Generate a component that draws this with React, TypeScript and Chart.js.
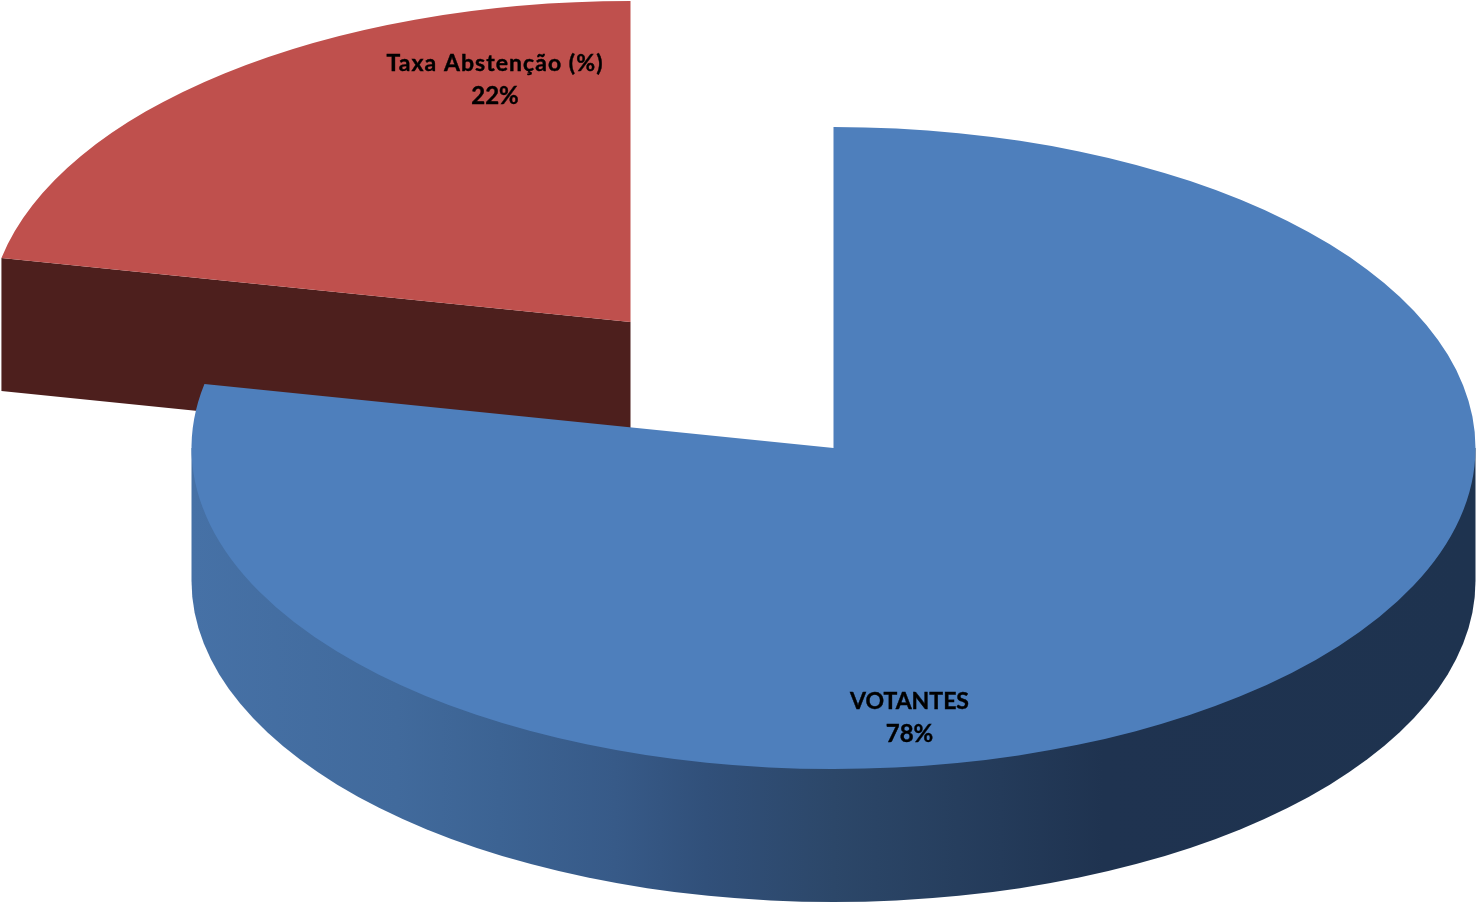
import React, { useEffect, useRef } from "react";
import { Chart, registerables } from "chart.js";

Chart.register(...registerables);

const categories = ["VOTANTES", "Taxa Abstenção (%)"];
const shares = [78.2, 21.8];
const topColors = ["#4e7fbc", "#bf504d"];
const redWallColor = "#4d1f1d";

const WIDTH = 1476;
const HEIGHT = 906;
const RADIUS = 642;
const SQUASH = 0.5;
const DEPTH = 133;
// where each slice's centre lands on the page, and its label
const sliceCentres = [
  { x: 833.5, y: 448 },
  { x: 630.5, y: 322 },
];
const labelAnchors = [
  { x: 909.5, y: 702 },
  { x: 495, y: 64 },
];
const labelTracking = ["0px", "1.05px"];
const LINE_GAP = 32;
const wallStops: [number, string][] = [
  [0, "#4671a6"],
  [0.16, "#416a9c"],
  [0.24, "#3c6393"],
  [0.33, "#375a88"],
  [0.4, "#31507a"],
  [0.5, "#2c4769"],
  [0.63, "#243b5a"],
  [0.71, "#1f3350"],
  [1, "#1e334f"],
];

const pie3d = {
  id: "pie3d",
  beforeDatasetsDraw(chart: any) {
    const ctx: any = chart.ctx;
    const arcs = chart.getDatasetMeta(0).data;
    // red slice sits behind the blue slice
    [1, 0].forEach((i) => {
      const arc = arcs[i];
      const c = sliceCentres[i];
      const rx = arc.outerRadius;
      const ry = rx * SQUASH;
      ctx.save();
      if (i === 0) {
        const g = ctx.createLinearGradient(c.x - rx, 0, c.x + rx, 0);
        wallStops.forEach(([o, col]) => g.addColorStop(o, col));
        ctx.fillStyle = g;
        ctx.beginPath();
        ctx.moveTo(c.x + rx, c.y);
        ctx.lineTo(c.x + rx, c.y + DEPTH);
        ctx.ellipse(c.x, c.y + DEPTH, rx, ry, 0, 0, Math.PI);
        ctx.lineTo(c.x - rx, c.y);
        ctx.closePath();
        ctx.fill();
      } else {
        const px = c.x + rx * Math.cos(arc.startAngle);
        const py = c.y + ry * Math.sin(arc.startAngle);
        ctx.fillStyle = redWallColor;
        ctx.beginPath();
        ctx.moveTo(px, py);
        ctx.lineTo(c.x, c.y);
        ctx.lineTo(c.x, c.y + DEPTH);
        ctx.lineTo(px, py + DEPTH);
        ctx.closePath();
        ctx.fill();
      }
      ctx.restore();

      ctx.save();
      ctx.translate(c.x, c.y);
      ctx.scale(1, SQUASH);
      ctx.translate(-arc.x, -arc.y);
      arc.draw(ctx);
      ctx.restore();
    });

    ctx.save();
    ctx.fillStyle = "#000";
    ctx.strokeStyle = "#000";
    ctx.lineWidth = 0.4;
    ctx.textAlign = "center";
    ctx.textBaseline = "middle";
    categories.forEach((name, i) => {
      const a = labelAnchors[i];
      ctx.font = 'bold 23px Lato, "Open Sans", sans-serif';
      ctx.letterSpacing = labelTracking[i];
      ctx.fillText(name, a.x, a.y);
      ctx.strokeText(name, a.x, a.y);
      ctx.font = 'bold 24px Lato, "Open Sans", sans-serif';
      ctx.letterSpacing = "0px";
      const pct = `${Math.round(shares[i])}%`;
      ctx.fillText(pct, a.x, a.y + LINE_GAP);
      ctx.strokeText(pct, a.x, a.y + LINE_GAP);
    });
    ctx.restore();
    return false;
  },
};

export default function App() {
  const ref = useRef<HTMLCanvasElement>(null);
  useEffect(() => {
    document.body.style.margin = "0";
    document.body.style.background = "#fff";
    const chart = new Chart(ref.current!, {
      type: "pie",
      data: {
        labels: categories,
        datasets: [
          {
            data: shares,
            backgroundColor: topColors,
            borderWidth: 0,
            radius: RADIUS,
          } as any,
        ],
      },
      options: {
        animation: false,
        responsive: false,
        devicePixelRatio: 1,
        events: [],
        layout: { padding: 0 },
        plugins: { legend: { display: false }, tooltip: { enabled: false } },
      },
      plugins: [pie3d],
    });
    return () => chart.destroy();
  }, []);
  return (
    <canvas
      ref={ref}
      width={WIDTH}
      height={HEIGHT}
      style={{ display: "block", width: WIDTH, height: HEIGHT }}
    />
  );
}
